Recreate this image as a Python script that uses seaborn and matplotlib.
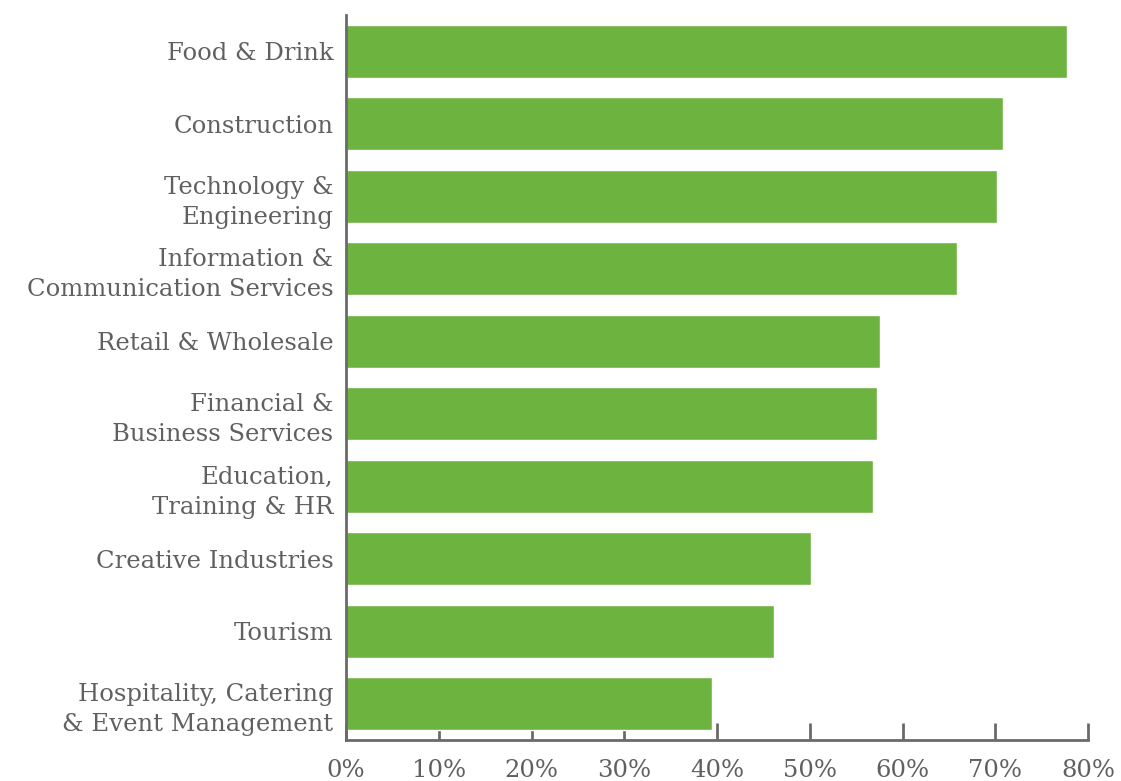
import matplotlib
matplotlib.use("Agg")
import matplotlib.pyplot as plt
from matplotlib.ticker import FuncFormatter
import seaborn as sns
import pandas as pd

sectors = [
    "Food & Drink",
    "Construction",
    "Technology &\nEngineering",
    "Information &\nCommunication Services",
    "Retail & Wholesale",
    "Financial &\nBusiness Services",
    "Education,\nTraining & HR",
    "Creative Industries",
    "Tourism",
    "Hospitality, Catering\n& Event Management",
]
shares = [77.7, 70.8, 70.2, 65.9, 57.6, 57.3, 56.8, 50.1, 46.1, 39.5]
x_ticks = [0, 10, 20, 30, 40, 50, 60, 70, 80]

df = pd.DataFrame({"sector": sectors, "share": shares})

sns.set_theme(style="white")
plt.rcParams["font.family"] = ["DejaVu Serif"]

text_color = "#606060"
axis_color = "#6a6a6a"
bar_color = "#6db33f"

fig = plt.figure(figsize=(11.21, 7.81), dpi=100)
ax = fig.add_axes([346 / 1121, 1 - 740 / 781, (1088 - 346) / 1121, (740 - 15) / 781])

sns.barplot(data=df, x="share", y="sector", orient="h", color=bar_color,
            saturation=1, width=0.73, ax=ax)

ax.set_xlim(0, 80)
ax.set_ylim(9.5, -0.5)
ax.set_xticks(x_ticks)
ax.xaxis.set_major_formatter(FuncFormatter(lambda v, p: f"{v:.0f}%"))
ax.set_xlabel("")
ax.set_ylabel("")

for side in ("top", "right"):
    ax.spines[side].set_visible(False)
for side in ("left", "bottom"):
    ax.spines[side].set_color(axis_color)
    ax.spines[side].set_linewidth(2)

ax.tick_params(axis="x", bottom=True, direction="in", length=12, width=2,
               color=axis_color, labelsize=17.5, labelcolor=text_color, pad=14)
ax.tick_params(axis="y", left=False, length=0, labelsize=17.5,
               labelcolor=text_color, pad=9)
for lbl in ax.get_yticklabels():
    lbl.set_horizontalalignment("right")
    lbl.set_linespacing(1.4)

fig.savefig("out.png", dpi=100, facecolor="white")
